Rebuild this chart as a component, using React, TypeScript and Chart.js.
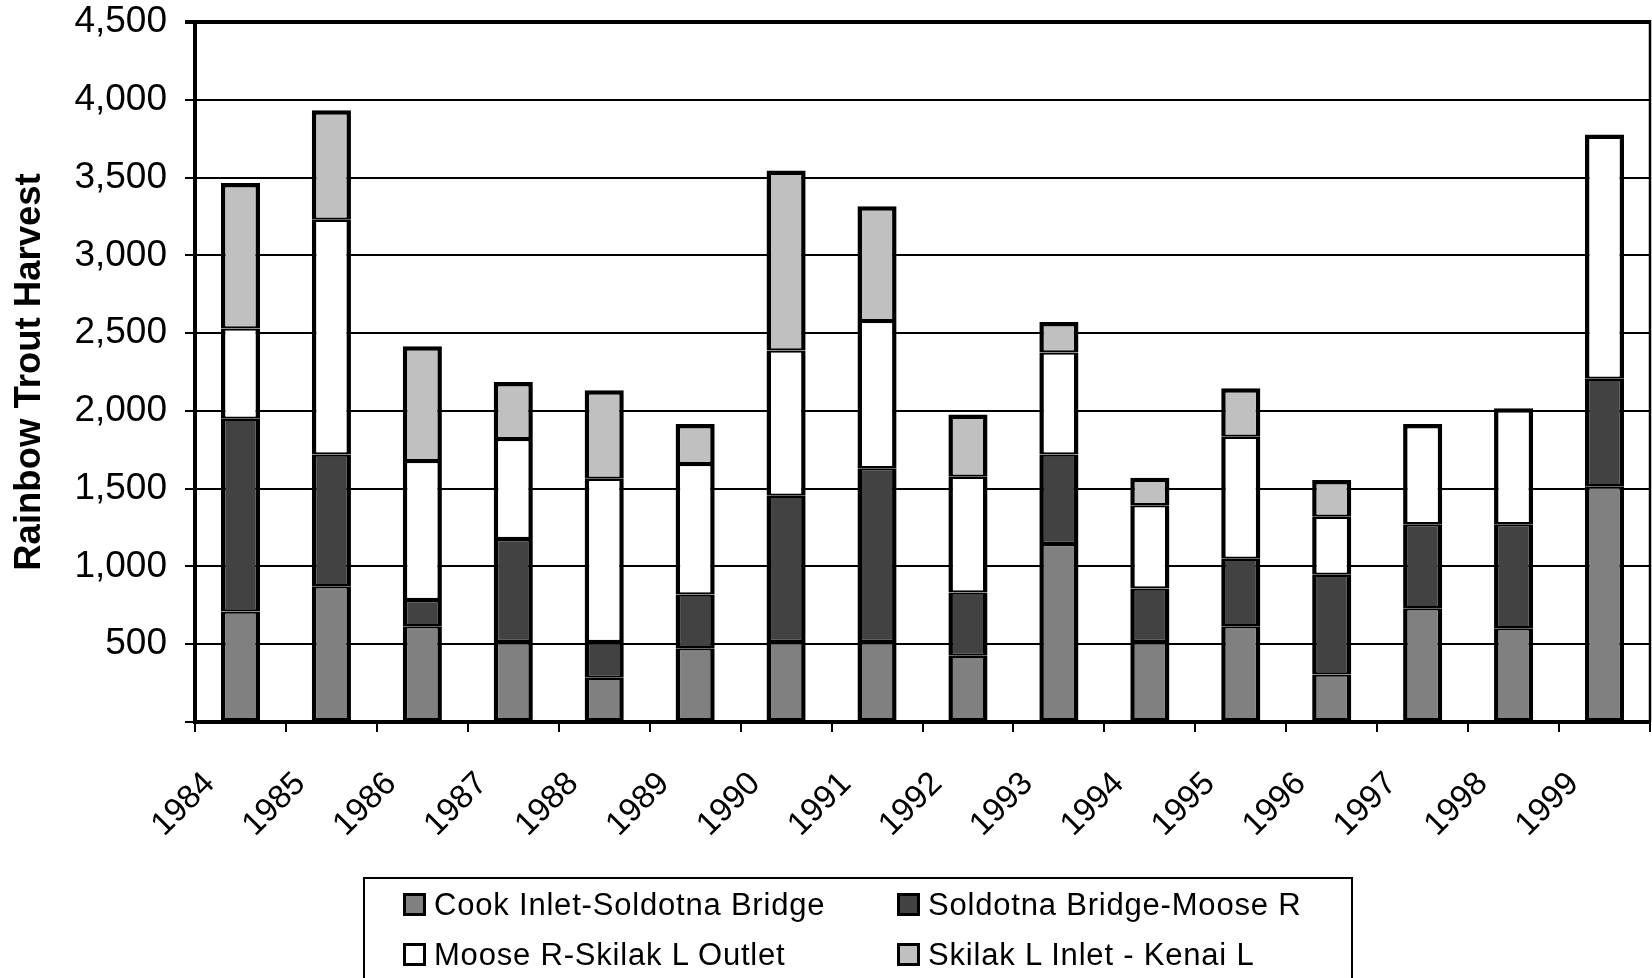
import { useEffect, useRef } from 'react';
import { Chart, registerables } from 'chart.js';

Chart.register(...registerables);

const years = ['1984', '1985', '1986', '1987', '1988', '1989', '1990', '1991', '1992', '1993', '1994', '1995', '1996', '1997', '1998', '1999'];

const seriesNames = ['Cook Inlet-Soldotna Bridge', 'Soldotna Bridge-Moose R', 'Moose R-Skilak L Outlet', 'Skilak L Inlet - Kenai L'];
const seriesColors = ['#808080', '#424242', '#ffffff', '#c0c0c0'];

const cookInletSoldotna = [710, 873, 616, 514, 284, 474, 514, 514, 426, 1144, 514, 616, 305, 731, 602, 1516];
const soldotnaMoose = [1240, 846, 169, 663, 230, 345, 941, 1117, 406, 575, 345, 433, 642, 541, 670, 690];
const mooseSkilakOutlet = [580, 1509, 893, 643, 1049, 839, 934, 947, 745, 656, 535, 785, 373, 643, 745, 1570];
const skilakInletKenai = [935, 704, 738, 366, 569, 257, 1157, 738, 399, 197, 176, 311, 236, null, null, null];

const yMin = 0;
const yMax = 4500;
const yStep = 500;
const yTitle = 'Rainbow Trout Harvest';

const FONT = '"Liberation Sans", Arial, Helvetica, sans-serif';

export default function App() {
  const ref = useRef<HTMLCanvasElement>(null);

  useEffect(() => {
    const all = [cookInletSoldotna, soldotnaMoose, mooseSkilakOutlet, skilakInletKenai];
    const isTop = (ds: number, i: number) => {
      for (let k = ds + 1; k < all.length; k++) {
        const v = all[k][i];
        if (v != null && v > 0) return false;
      }
      return true;
    };

    const frameRight = {
      id: 'frameRight',
      afterDraw(chart: any) {
        const { ctx, chartArea } = chart;
        ctx.save();
        ctx.strokeStyle = '#000';
        ctx.lineWidth = 2.5;
        ctx.beginPath();
        ctx.moveTo(chartArea.right, chartArea.top - 2);
        ctx.lineTo(chartArea.right, chartArea.bottom);
        ctx.stroke();
        ctx.restore();
      },
    };

    const chart = new Chart(ref.current!, {
      type: 'bar',
      data: {
        labels: years,
        datasets: all.map((d, k) => ({
          label: seriesNames[k],
          data: d,
          backgroundColor: seriesColors[k],
          borderColor: '#000',
          borderSkipped: false,
          borderWidth: (ctx: any) => {
            if (ctx.dataIndex == null) return 3;
            return {
              left: 4.5,
              right: 4.5,
              top: isTop(ctx.datasetIndex, ctx.dataIndex) ? 4.5 : 2.25,
              bottom: k === 0 ? 3 : 2.25,
            };
          },
          barPercentage: 0.43,
          categoryPercentage: 1,
        })),
      },
      options: {
        animation: false,
        responsive: false,
        layout: { padding: { top: 22, right: 2, left: 0, bottom: 0 } },
        plugins: {
          legend: { display: false },
          tooltip: { enabled: false },
        },
        scales: {
          x: {
            stacked: true,
            offset: true,
            grid: {
              offset: true,
              drawOnChartArea: false,
              drawTicks: true,
              tickLength: 10,
              color: '#000',
              lineWidth: 2,
            },
            border: { display: true, color: '#000', width: 4 },
            ticks: {
              color: '#000',
              font: { family: FONT, size: 33, lineHeight: 1 },
              minRotation: 45,
              maxRotation: 45,
              labelOffset: -31,
              padding: 35,
              autoSkip: false,
            },
            afterFit: (axis: any) => {
              axis.height = 978 - 722;
              axis.paddingLeft = 0;
              axis.paddingRight = 0;
            },
          },
          y: {
            stacked: true,
            min: yMin,
            max: yMax,
            ticks: {
              stepSize: yStep,
              color: '#000',
              font: { family: FONT, size: 37, lineHeight: 1 },
              padding: 18,
              callback: (v: any) => (Number(v) === 0 ? '' : Number(v).toLocaleString('en-US')),
            },
            grid: {
              color: '#000',
              lineWidth: (ctx: any) => (ctx.tick && ctx.tick.value === yMax ? 4 : 2),
              tickLength: 10,
            },
            border: { display: true, color: '#000', width: 4 },
            title: {
              display: true,
              text: yTitle,
              color: '#000',
              font: { family: FONT, size: 36.5, weight: 'bold' },
              padding: { top: 8, bottom: 0 },
            },
            afterFit: (axis: any) => {
              axis.width = 195;
              axis.paddingTop = 0;
              axis.paddingBottom = 0;
            },
          },
        },
      },
      plugins: [frameRight],
    } as any);

    return () => chart.destroy();
  }, []);

  const legendCols = [403, 897];
  const legendRows = [892.5, 943];

  return (
    <div style={{ position: 'fixed', left: 0, top: 0, width: 1652, height: 978, overflow: 'hidden', background: '#fff' }}>
      <canvas ref={ref} width={1652} height={978} style={{ display: 'block', width: 1652, height: 978 }} />
      <div
        style={{
          position: 'absolute',
          left: 363,
          top: 877,
          width: 990,
          height: 200,
          border: '2px solid #000',
          boxSizing: 'border-box',
        }}
      />
      {seriesNames.map((name, i) => {
        const col = i % 2;
        const row = Math.floor(i / 2);
        const left = legendCols[col];
        const top = legendRows[row];
        return (
          <div key={name}>
            <div
              style={{
                position: 'absolute',
                left,
                top,
                width: 23,
                height: 23,
                boxSizing: 'border-box',
                border: '3px solid #000',
                background: seriesColors[i],
              }}
            />
            <div
              style={{
                position: 'absolute',
                left: left + 31,
                top: top - 3.7,
                fontFamily: FONT,
                fontSize: 31,
                lineHeight: '31px',
                letterSpacing: '0.8px',
                color: '#000',
                whiteSpace: 'nowrap',
              }}
            >
              {name}
            </div>
          </div>
        );
      })}
    </div>
  );
}
